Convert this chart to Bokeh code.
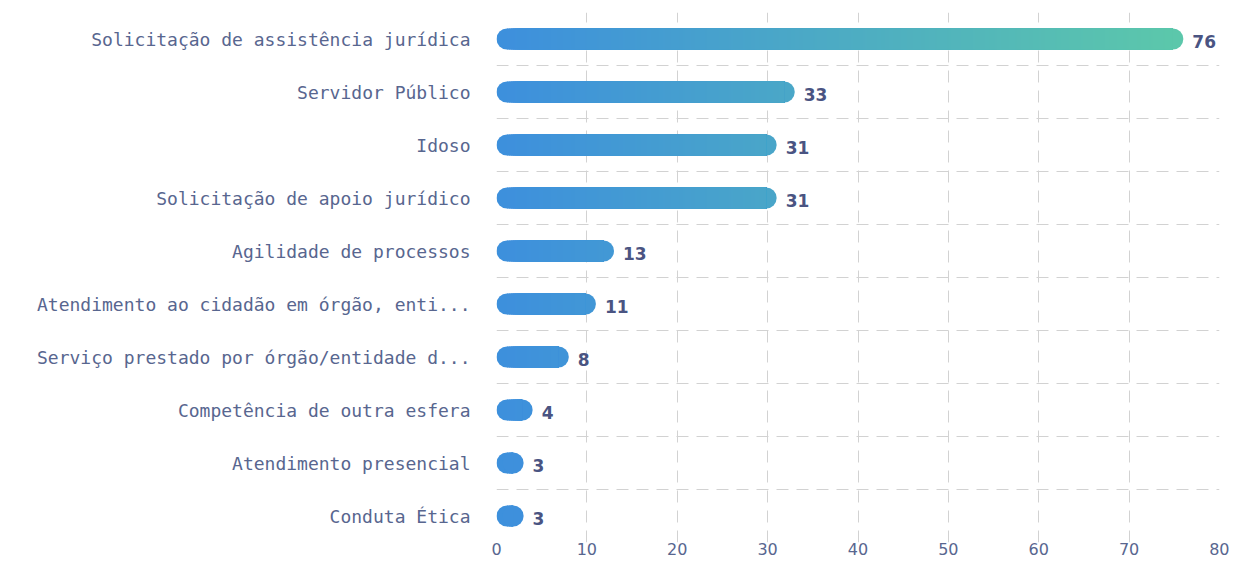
from bokeh.plotting import figure
from bokeh.models import Range1d, FixedTicker
from bokeh.embed import file_html
from bokeh.resources import INLINE
from bokeh.core.properties import value

# ---- data ----
categories = [
    "Solicitação de assistência jurídica",
    "Servidor Público",
    "Idoso",
    "Solicitação de apoio jurídico",
    "Agilidade de processos",
    "Atendimento ao cidadão em órgão, enti...",
    "Serviço prestado por órgão/entidade d...",
    "Competência de outra esfera",
    "Atendimento presencial",
    "Conduta Ética",
]
counts = [76, 33, 31, 31, 13, 11, 8, 4, 3, 3]
x_ticks = [0, 10, 20, 30, 40, 50, 60, 70, 80]

# ---- style ----
START = (61, 143, 221)
END = (92, 200, 170)
LABEL_COLOR = "#58668f"
VALUE_COLOR = "#4a5482"
GRID_COLOR = "#d2d2d2"

W, H = 1229, 561
B_LEFT, B_RIGHT, B_TOP, B_BOTTOM = 496, 10, 12, 19
X_MAX = x_ticks[-1]
frame_w = W - B_LEFT - B_RIGHT
frame_h = H - B_TOP - B_BOTTOM
units_per_px = X_MAX / frame_w
n = len(categories)
BAR_PX = 21
r = BAR_PX / 2 * units_per_px
ys = [n - 0.5 - i for i in range(n)]
bar_h = BAR_PX * n / frame_h
vmax = max(counts)


def grad(x):
    t = min(max(x / vmax, 0.0), 1.0)
    c = [round(a + (b - a) * t) for a, b in zip(START, END)]
    return "#%02x%02x%02x" % tuple(c)


p = figure(
    width=W, height=H,
    x_range=Range1d(0, X_MAX), y_range=Range1d(0, n),
    output_backend="svg", toolbar_location=None,
    min_border_left=B_LEFT, min_border_right=B_RIGHT,
    min_border_top=B_TOP, min_border_bottom=B_BOTTOM,
)
p.outline_line_color = None
p.background_fill_color = "white"
p.border_fill_color = "white"

# rounded caps (drawn first, slices go over them)
p.scatter(x=[r] * n, y=ys, size=BAR_PX, marker="circle",
          fill_color=[grad(r)] * n, line_color=None)
p.scatter(x=[v - r for v in counts], y=ys, size=BAR_PX, marker="circle",
          fill_color=[grad(v - r) for v in counts], line_color=None)

# gradient: overlapping slices, each running to the bar's end
step = 2 * units_per_px
lefts, rights, sy, cols = [], [], [], []
for v, y in zip(counts, ys):
    a = r
    while a < v - r:
        b = min(a + step, v - r)
        lefts.append(a)
        rights.append(v - r)
        sy.append(y)
        cols.append(grad((a + b) / 2))
        a = b
p.hbar(y=sy, left=lefts, right=rights, height=bar_h,
       fill_color=cols, line_color=None)

# value labels
p.text(x=counts, y=ys, text=[str(c) for c in counts],
       x_offset=9, y_offset=2,
       text_align="left", text_baseline="middle",
       text_font=value("DejaVu Sans"), text_font_style="bold",
       text_font_size="17px", text_color=VALUE_COLOR)

# grids
p.xgrid.ticker = FixedTicker(ticks=x_ticks)
p.ygrid.ticker = FixedTicker(ticks=list(range(n)))
for g in (p.xgrid, p.ygrid):
    g.grid_line_color = GRID_COLOR
    g.grid_line_dash = "12 8"
    g.grid_line_width = 1

# axes
p.xaxis.ticker = FixedTicker(ticks=x_ticks)
p.yaxis.ticker = FixedTicker(ticks=ys)
p.yaxis.major_label_overrides = {y: c for y, c in zip(ys, categories)}
for ax in (p.xaxis, p.yaxis):
    ax.axis_line_color = None
    ax.major_tick_line_color = None
    ax.minor_tick_line_color = None
    ax.major_tick_out = 0
    ax.major_tick_in = 0
    ax.major_label_text_color = LABEL_COLOR
p.yaxis.major_label_text_font = "DejaVu Sans Mono"
p.yaxis.major_label_text_font_size = "18px"
p.yaxis.major_label_standoff = 26
p.xaxis.major_label_text_font = "DejaVu Sans"
p.xaxis.major_label_text_font_size = "16px"
p.xaxis.major_label_standoff = 0

open("out.html", "w").write(file_html(p, INLINE))
